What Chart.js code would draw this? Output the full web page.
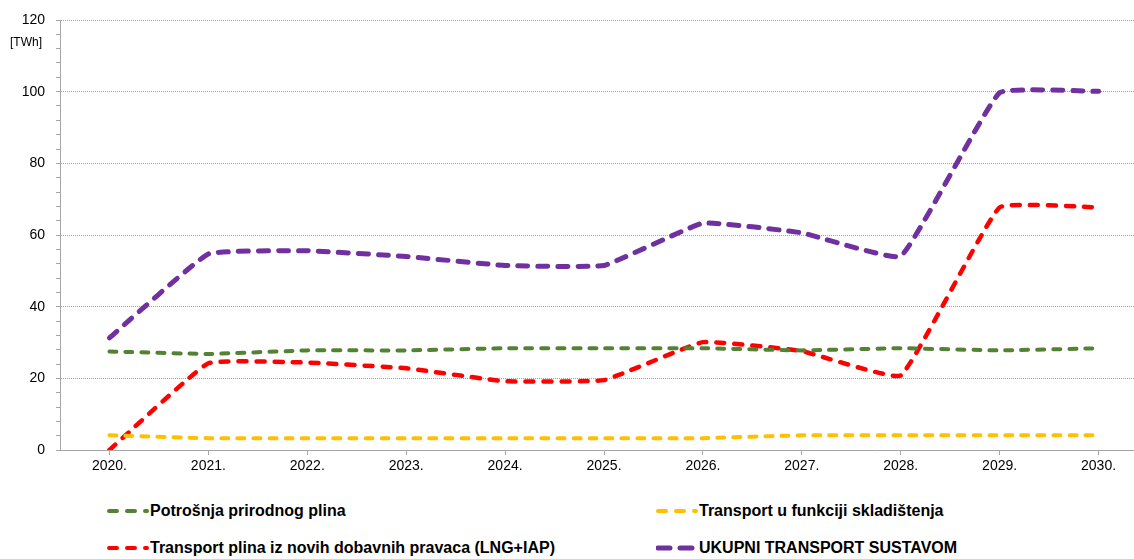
<!DOCTYPE html>
<html>
<head>
<meta charset="utf-8">
<script src="https://cdn.jsdelivr.net/npm/chart.js@4/dist/chart.umd.min.js"></script>
<style>
  html, body { margin: 0; padding: 0; background: #fff; overflow: hidden; }
  body { width: 1134px; height: 559px; position: relative; font-family: 'Liberation Sans', Arial, sans-serif; }
  #wrap { position: absolute; left: 0; top: 0; width: 1148px; height: 480px; }
  #unit { position: absolute; left: 10px; top: 35px; font-size: 12px; color: #000; }
  .leg { position: absolute; font-weight: bold; font-size: 16px; color: #000; white-space: nowrap; height: 20px; line-height: 20px; }
  .leg svg { position: absolute; left: 0; top: 0; }
  .leg span { position: absolute; left: 43px; top: 0; }
</style>
</head>
<body>
<div id="wrap"><canvas id="myChart"></canvas></div>
<div id="unit">[TWh]</div>
<div id="legend"></div>
<script>
'use strict';

// ***** DATA *****
let years = ['2020.', '2021.', '2022.', '2023.', '2024.', '2025.', '2026.', '2027.', '2028.', '2029.', '2030.'];
let potrosnja = [27.5, 26.8, 27.8, 27.8, 28.4, 28.4, 28.4, 27.8, 28.4, 27.8, 28.4];
let skladistenje = [4.1, 3.3, 3.3, 3.3, 3.3, 3.3, 3.3, 4.1, 4.1, 4.1, 4.1];
let noviPravci = [0, 24.2, 24.4, 22.8, 19.2, 19.5, 30.1, 27.6, 20.8, 67.7, 67.7];
let ukupno = [31.3, 54.7, 55.6, 54.0, 51.5, 51.5, 63.3, 60.6, 54.1, 99.7, 100.1];

let seriesNames = [
  'Potrošnja prirodnog plina',
  'Transport u funkciji skladištenja',
  'Transport plina iz novih dobavnih pravaca (LNG+IAP)',
  'UKUPNI TRANSPORT SUSTAVOM'
];
let seriesColors = ['#548235', '#FFC000', '#FF0000', '#7030A0'];
let yTickLabels = [0, 20, 40, 60, 80, 100, 120];

// ***** CHART *****
const ctx = document.getElementById('myChart').getContext('2d');

function makeSet(i, data, width, dash) {
  return {
    label: seriesNames[i],
    data: data,
    borderColor: seriesColors[i],
    backgroundColor: seriesColors[i],
    borderWidth: width,
    borderDash: dash,
    borderCapStyle: 'round',
    pointRadius: 0,
    tension: 0.1,
    fill: false
  };
}

const chartObj = {
  type: 'line',
  data: {
    labels: years,
    datasets: [
      makeSet(0, potrosnja, 4, [7, 9]),
      makeSet(1, skladistenje, 4, [7, 9]),
      makeSet(2, noviPravci, 4.5, [8, 10]),
      makeSet(3, ukupno, 5, [10, 10])
    ]
  },
  options: {
    responsive: true,
    maintainAspectRatio: false,
    animation: false,
    layout: { padding: { top: 20, left: 0, right: 0, bottom: 0 } },
    plugins: { legend: { display: false }, tooltip: { enabled: false } },
    scales: {
      x: {
        offset: true,
        grid: { drawOnChartArea: false, drawTicks: true, tickLength: 5, tickColor: '#a6a6a6' },
        border: { display: true, color: '#a6a6a6', width: 1 },
        ticks: { color: '#000', padding: 3, font: { family: "'Liberation Sans', Arial, sans-serif", size: 14 }, maxRotation: 0, autoSkip: false },
        afterFit: function (scale) { scale.height = 30; }
      },
      y: {
        min: 0,
        max: 120,
        ticks: {
          stepSize: 4,
          autoSkip: false,
          padding: 11,
          color: '#000',
          font: { family: "'Liberation Sans', Arial, sans-serif", size: 14 },
          callback: function (v) { return yTickLabels.includes(v) ? String(v) : ''; }
        },
        grid: {
          drawTicks: true,
          tickLength: 4,
          tickColor: '#a6a6a6',
          tickBorderDash: [4, 0],
          lineWidth: 1,
          color: function (c) {
            let v = c.tick ? c.tick.value : 0;
            return (v !== 0 && yTickLabels.includes(v)) ? '#a0a0a0' : 'rgba(0,0,0,0)';
          }
        },
        border: { display: true, color: '#a6a6a6', width: 1, dash: [1, 1] },
        afterFit: function (scale) { scale.width = 60; }
      }
    }
  }
};

const myChart = new Chart(ctx, chartObj); // eslint-disable-line

// ***** LEGEND (html, 2 x 2) *****
let legendPos = [[107, 501], [656, 501], [107, 538], [656, 538]];
let legendDash = ['8 10', '8 10', '8 10', '12 10'];
let legendEl = document.getElementById('legend');
for (let i = 0; i < seriesNames.length; i++) {
  let item = document.createElement('div');
  item.className = 'leg';
  item.style.left = legendPos[i][0] + 'px';
  item.style.top = legendPos[i][1] + 'px';
  let x2 = i === 3 ? 36 : 40;
  item.innerHTML = '<svg width="44" height="20"><line x1="2" y1="10" x2="' + x2 + '" y2="10" stroke="' +
    seriesColors[i] + '" stroke-width="' + (i === 3 ? 5 : 4) + '" stroke-linecap="round" stroke-dasharray="' +
    legendDash[i] + '"/></svg><span>' + seriesNames[i] + '</span>';
  legendEl.appendChild(item);
}
</script>
</body>
</html>
